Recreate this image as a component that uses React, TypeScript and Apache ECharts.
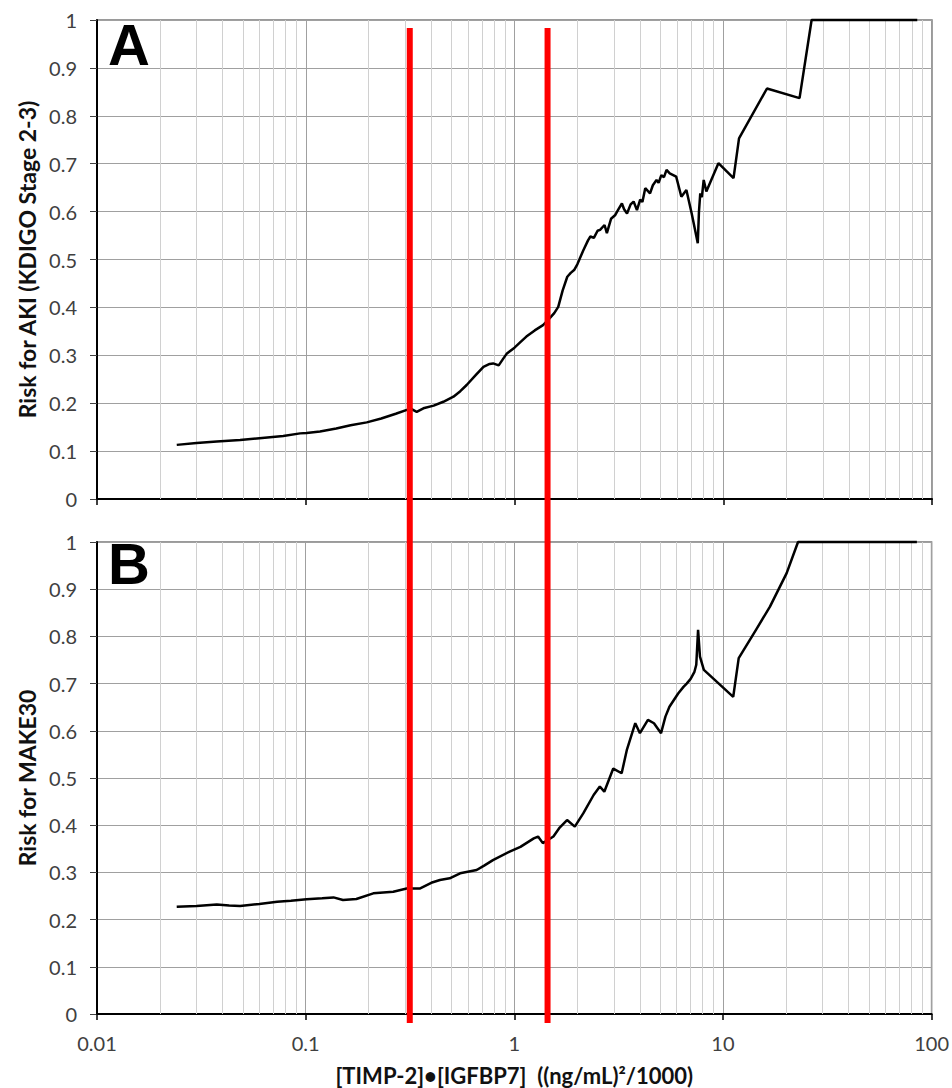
import React, { useEffect, useRef } from "react";
import * as echarts from "echarts";

// Panel A: Risk for AKI (KDIGO Stage 2-3)
const aX = [0.0241, 0.03, 0.0375, 0.0485, 0.06, 0.078, 0.094, 0.101, 0.117, 0.14, 0.164, 0.196, 0.23, 0.27, 0.305, 0.32, 0.34, 0.37, 0.41, 0.456, 0.51, 0.55, 0.59, 0.65, 0.71, 0.76, 0.79, 0.84, 0.88, 0.92, 1.0, 1.07, 1.14, 1.25, 1.37, 1.45, 1.55, 1.62, 1.7, 1.79, 1.86, 1.93, 2.0, 2.14, 2.25, 2.31, 2.4, 2.5, 2.57, 2.7, 2.77, 2.9, 3.04, 3.15, 3.27, 3.35, 3.46, 3.6, 3.72, 3.86, 4.0, 4.1, 4.23, 4.46, 4.6, 4.79, 4.9, 5.05, 5.2, 5.35, 5.54, 5.95, 6.3, 6.66, 7.06, 7.3, 7.55, 7.65, 7.76, 7.9, 8.06, 8.3, 9.48, 11.2, 11.9, 16.2, 23.2, 26.5, 85];
const aY = [0.113, 0.117, 0.12, 0.123, 0.127, 0.1315, 0.137, 0.138, 0.141, 0.147, 0.154, 0.16, 0.168, 0.178, 0.186, 0.188, 0.182, 0.19, 0.195, 0.203, 0.2135, 0.225, 0.238, 0.258, 0.276, 0.282, 0.283, 0.279, 0.292, 0.304, 0.316, 0.328, 0.339, 0.352, 0.363, 0.374, 0.388, 0.401, 0.435, 0.464, 0.472, 0.478, 0.49, 0.52, 0.54, 0.548, 0.545, 0.56, 0.562, 0.572, 0.555, 0.585, 0.593, 0.605, 0.617, 0.605, 0.596, 0.615, 0.621, 0.603, 0.625, 0.62, 0.649, 0.638, 0.655, 0.666, 0.66, 0.676, 0.672, 0.687, 0.68, 0.673, 0.631, 0.645, 0.596, 0.565, 0.534, 0.6, 0.638, 0.63, 0.666, 0.642, 0.701, 0.67, 0.753, 0.857, 0.837, 1.0, 1.0];

// Panel B: Risk for MAKE30
const bX = [0.0241, 0.03, 0.0375, 0.043, 0.0485, 0.06, 0.073, 0.085, 0.101, 0.12, 0.136, 0.151, 0.175, 0.211, 0.263, 0.305, 0.354, 0.4, 0.44, 0.49, 0.55, 0.66, 0.72, 0.79, 0.95, 1.07, 1.24, 1.3, 1.37, 1.54, 1.65, 1.79, 1.95, 2.14, 2.4, 2.57, 2.7, 2.98, 3.27, 3.46, 3.8, 4.0, 4.37, 4.67, 5.05, 5.3, 5.54, 6.1, 6.47, 6.7, 7.0, 7.3, 7.45, 7.6, 7.76, 8.1, 11.2, 11.9, 14.4, 16.8, 20.2, 22.9, 85];
const bY = [0.227, 0.229, 0.232, 0.23, 0.229, 0.233, 0.238, 0.24, 0.243, 0.245, 0.247, 0.2415, 0.2436, 0.2557, 0.259, 0.266, 0.266, 0.278, 0.284, 0.2875, 0.298, 0.305, 0.315, 0.326, 0.344, 0.354, 0.372, 0.376, 0.362, 0.376, 0.395, 0.411, 0.397, 0.425, 0.464, 0.482, 0.471, 0.52, 0.51, 0.559, 0.616, 0.595, 0.623, 0.616, 0.595, 0.63, 0.651, 0.679, 0.693, 0.7, 0.71, 0.725, 0.74, 0.814, 0.757, 0.729, 0.672, 0.754, 0.814, 0.863, 0.934, 1.0, 1.0];

// Minor (2..9) log grid lines
const minorTicks = [0.02, 0.03, 0.04, 0.05, 0.06, 0.07, 0.08, 0.09, 0.2, 0.3, 0.4, 0.5, 0.6, 0.7, 0.8, 0.9, 2, 3, 4, 5, 6, 7, 8, 9, 20, 30, 40, 50, 60, 70, 80, 90];

// Red cut-off lines
const cutoffs = [0.315, 1.44];

const panelNames = ["Risk for AKI (KDIGO Stage 2-3)", "Risk for MAKE30"];
const panelLetters = ["A", "B"];
const xTitle = "[TIMP-2]\u2022[IGFBP7]  ((ng/mL)\u00b2/1000)";

const FONT = "Lato, 'Open Sans', sans-serif";

export default function App() {
  const ref = useRef<HTMLDivElement>(null);

  useEffect(() => {
    if (!ref.current) return;
    const chart = echarts.init(ref.current, null, { renderer: "svg" });

    const grids = [
      { left: 97, top: 20, width: 835, height: 479 },
      { left: 97, top: 542, width: 835, height: 472 },
    ];

    const fmt = (v: number) => String(Number(v.toPrecision(3)));

    const xAxes = grids.map((_, i) => ({
      type: "log",
      logBase: 10,
      gridIndex: i,
      min: 0.01,
      max: 100,
      name: i === 1 ? xTitle : "",
      nameLocation: "middle",
      nameGap: 50,
      nameTextStyle: { fontSize: 22, fontWeight: "bold", color: "#111", fontFamily: FONT },
      axisLine: { show: true, lineStyle: { color: "#000", width: 2 } },
      axisTick: { show: true, length: 6, lineStyle: { color: "#000", width: 1.5 } },
      axisLabel: {
        show: i === 1,
        fontSize: 20,
        color: "#404040",
        margin: 19,
        fontFamily: FONT,
        formatter: (v: number) => fmt(v),
      },
      splitLine: { show: true, lineStyle: { color: "#a0a0a0", width: 1 } },
    }));

    const yAxes = grids.map((_, i) => ({
      type: "value",
      gridIndex: i,
      min: 0,
      max: 1,
      interval: 0.1,
      name: panelNames[i],
      nameLocation: "middle",
      nameGap: 58,
      nameTextStyle: { fontSize: 23, fontWeight: "bold", color: "#111", fontFamily: FONT },
      axisLine: { show: true, lineStyle: { color: "#000", width: 2 } },
      axisTick: { show: true, length: 7, lineStyle: { color: "#404040", width: 1 } },
      axisLabel: {
        fontSize: 20,
        color: "#404040",
        margin: 20,
        fontFamily: FONT,
        formatter: (v: number) => fmt(v),
      },
      splitLine: { show: true, lineStyle: { color: "#a0a0a0", width: 1 } },
    }));

    const series: any[] = [];
    grids.forEach((_, i) => {
      series.push({
        type: "line",
        xAxisIndex: i,
        yAxisIndex: i,
        data: [],
        z: 1,
        silent: true,
        markLine: {
          silent: true,
          symbol: "none",
          label: { show: false },
          lineStyle: { type: "solid", color: "#d0d0d0", width: 1 },
          data: minorTicks.map((v) => ({ xAxis: v })),
        },
      });
    });
    const xs = [aX, bX];
    const ys = [aY, bY];
    xs.forEach((X, i) => {
      series.push({
        type: "line",
        xAxisIndex: i,
        yAxisIndex: i,
        data: X.map((x, k) => [x, ys[i][k]]),
        showSymbol: false,
        symbol: "none",
        clip: false,
        z: 5,
        lineStyle: { color: "#000", width: 2.5 },
      });
    });

    chart.setOption({
      animation: false,
      grid: grids.map((g) => ({ ...g, show: true, borderColor: "#7a7a7a", borderWidth: 1.5, backgroundColor: "transparent" })),
      xAxis: xAxes,
      yAxis: yAxes,
      series,
    });

    const redLines = cutoffs.map((c) => {
      const px = chart.convertToPixel({ xAxisIndex: 0 }, c) as number;
      return {
        type: "line",
        z: 100,
        silent: true,
        shape: { x1: px, y1: 28, x2: px, y2: 1023 },
        style: { stroke: "#ff0000", lineWidth: 6 },
      };
    });
    const letters = panelLetters.map((L, i) => ({
      type: "text",
      z: 50,
      x: 108,
      y: i === 0 ? 15 : 534,
      style: {
        text: L,
        fill: "#000",
        font: "bold 58px 'Liberation Sans', Arial, sans-serif",
        verticalAlign: "top",
      },
    }));

    chart.setOption({ graphic: [...redLines, ...letters] });

    return () => chart.dispose();
  }, []);

  return (
    <div
      ref={ref}
      style={{ position: "absolute", left: 0, top: 0, width: 952, height: 1088, background: "#fff" }}
    />
  );
}
